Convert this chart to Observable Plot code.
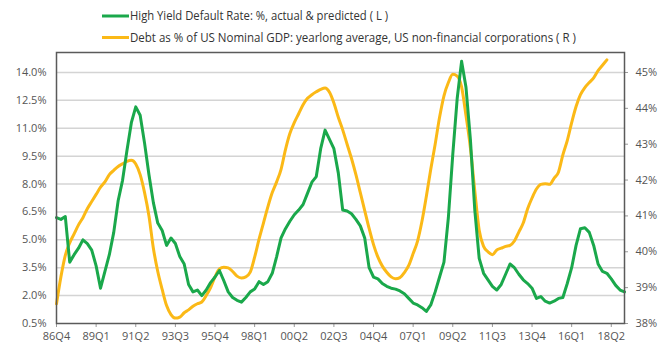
<!DOCTYPE html>
<html>
<head>
<meta charset="utf-8">
<script src="https://cdn.jsdelivr.net/npm/d3@7"></script>
<script src="https://cdn.jsdelivr.net/npm/@observablehq/plot@0.6"></script>
<style>
  html, body { margin: 0; padding: 0; background: #fff; }
  #legend { display: block; }
  #chart svg { display: block; }
</style>
</head>
<body>
<svg id="legend" width="661" height="48"></svg>
<div id="chart"></div>
<script>
// Quarterly series, both starting at 86Q4
const seriesStart = "86Q4";

// High Yield Default Rate, % (left axis), actual & predicted
const defaultRate = [
  6.2, 6.1, 6.25, 3.8, 4.2, 4.55, 5.0, 4.8, 4.45, 3.6,
  2.4, 3.3, 4.2, 5.4, 7.1, 8.2, 9.8, 11.3, 12.15, 11.7,
  10.2, 8.5, 7.0, 5.9, 5.5, 4.7, 5.1, 4.8, 4.1, 3.7,
  2.6, 2.2, 2.3, 2.0, 2.3, 2.7, 3.0, 3.35, 2.8, 2.2,
  1.9, 1.75, 1.65, 1.9, 2.2, 2.35, 2.75, 2.6, 2.75, 3.2,
  4.1, 5.1, 5.6, 6.0, 6.35, 6.6, 6.9, 7.5, 8.1, 8.4,
  9.9, 10.9, 10.4, 9.9, 8.6, 6.6, 6.55, 6.4, 6.1, 5.75,
  5.1, 3.5, 3.0, 2.9, 2.65, 2.5, 2.4, 2.35, 2.25, 2.1,
  1.85, 1.6, 1.5, 1.35, 1.15, 1.5, 2.2, 3.0, 3.8, 6.2,
  9.6, 12.6, 14.6, 13.2, 10.4, 6.6, 4.0, 3.2, 2.85, 2.5,
  2.3, 2.6, 3.15, 3.7, 3.5, 3.15, 2.85, 2.65, 2.4, 1.85,
  1.95, 1.7, 1.6, 1.7, 1.85, 1.9, 2.65, 3.5, 4.7, 5.6,
  5.65, 5.4, 4.7, 3.7, 3.3, 3.2, 2.9, 2.55, 2.3, 2.2
];

// Debt as % of US nominal GDP, yearlong average, US non-financial corporations (right axis)
const debtToGdp = [
  38.55, 39.3, 39.9, 40.25, 40.5, 40.75, 40.95, 41.2, 41.4, 41.6,
  41.8, 41.95, 42.15, 42.27, 42.38, 42.45, 42.52, 42.55, 42.45, 42.15,
  41.65, 41.0, 40.1, 39.45, 38.95, 38.5, 38.25, 38.15, 38.18, 38.3,
  38.38, 38.48, 38.55, 38.6, 38.78, 39.0, 39.3, 39.52, 39.57, 39.55,
  39.45, 39.32, 39.27, 39.3, 39.43, 39.85, 40.35, 40.8, 41.25, 41.65,
  41.95, 42.3, 42.85, 43.3, 43.6, 43.85, 44.1, 44.28, 44.38, 44.46,
  44.53, 44.57, 44.45, 44.15, 43.75, 43.4, 43.0, 42.6, 42.15, 41.65,
  41.15, 40.65, 40.2, 39.85, 39.6, 39.43, 39.3, 39.25, 39.28, 39.42,
  39.62, 39.95, 40.3, 40.85, 41.55, 42.3, 43.0, 43.75, 44.35, 44.72,
  44.95, 44.9, 44.6, 43.8, 42.9, 41.7, 40.6, 40.15, 40.0, 39.92,
  40.05, 40.1, 40.15, 40.18, 40.3, 40.55, 40.8, 41.2, 41.5, 41.75,
  41.88, 41.9, 41.88, 42.05, 42.22, 42.7, 43.1, 43.6, 44.05, 44.38,
  44.58, 44.72, 44.85, 45.05, 45.2, 45.35
];

const xTickLabels = ["86Q4", "89Q1", "91Q2", "93Q3", "95Q4", "98Q1", "00Q2", "02Q3",
  "04Q4", "07Q1", "09Q2", "11Q3", "13Q4", "16Q1", "18Q2"];
const leftTicks = [0.5, 2.0, 3.5, 5.0, 6.5, 8.0, 9.5, 11.0, 12.5, 14.0];
const rightTicks = [38, 39, 40, 41, 42, 43, 44, 45];
const lastQuarter = "19Q1";

const legendItems = [
  {label: "High Yield Default Rate: %, actual & predicted ( L )", color: "#1aa84b", width: 258},
  {label: "Debt as % of US Nominal GDP: yearlong average, US non-financial corporations ( R )", color: "#fbb917", width: 446}
];

// "86Q4" -> number of quarters since 1986 Q4
function quarterIndex(label) {
  const yy = +label.slice(0, 2);
  const year = yy < 50 ? 2000 + yy : 1900 + yy;
  const q = +label.slice(3);
  return (year - 1986) * 4 + (q - 4);
}

const q0 = quarterIndex(seriesStart);
const hy = defaultRate.map((v, i) => ({q: q0 + i, v}));
const debt = debtToGdp.map((v, i) => ({q: q0 + i, v}));

// right axis (38%..45%) shares the left scale (0.5%..14.0%)
const toLeft = r => 0.5 + (r - 38) * (13.5 / 7);
const fromLeft = l => 38 + (l - 0.5) * (7 / 13.5);

const xTicks = xTickLabels.map(quarterIndex);
const labelAt = new Map(xTickLabels.map(l => [quarterIndex(l), l]));

const chart = Plot.plot({
  width: 661,
  height: 299,
  marginLeft: 56,
  marginRight: 37,
  marginTop: 4,
  marginBottom: 24,
  style: {fontFamily: "'Open Sans', sans-serif", fontSize: "11px", color: "#555", background: "#fff"},
  x: {domain: [0, quarterIndex(lastQuarter)], label: null},
  y: {domain: [0.5, toLeft(45.557)], label: null},
  marks: [
    Plot.gridY(leftTicks.slice(1), {stroke: "#d4d4d4", strokeOpacity: 1, strokeWidth: 1.5}),
    Plot.lineY(debt, {x: "q", y: d => toLeft(d.v), stroke: "#fbb917", strokeWidth: 3, curve: "monotone-x"}),
    Plot.lineY(hy, {x: "q", y: "v", stroke: "#1aa84b", strokeWidth: 3}),
    Plot.axisY(leftTicks, {anchor: "left", label: null, tickSize: 0, tickPadding: 10,
      tickFormat: d => d.toFixed(1) + "%"}),
    Plot.axisY(rightTicks.map(toLeft), {anchor: "right", label: null, tickSize: 3, tickPadding: 8, stroke: "#999",
      tickFormat: d => Math.round(fromLeft(d)) + "%"}),
    Plot.axisX(xTicks, {label: null, tickSize: 4, tickPadding: 5, stroke: "#999", tickFormat: d => labelAt.get(d)}),
    Plot.frame({stroke: "#5a5a5a", strokeWidth: 1.5})
  ]
});
document.getElementById("chart").appendChild(chart);

// legend above the chart
const legend = d3.select("#legend");
legendItems.forEach((item, i) => {
  const y = 16 + i * 21.5;
  legend.append("line")
    .attr("x1", 102).attr("x2", 129).attr("y1", y).attr("y2", y)
    .attr("stroke", item.color).attr("stroke-width", 3);
  legend.append("text")
    .attr("x", 130).attr("y", y + 4)
    .attr("font-family", "'Open Sans', sans-serif")
    .attr("font-size", 12)
    .attr("fill", "#333")
    .attr("textLength", item.width)
    .attr("lengthAdjust", "spacingAndGlyphs")
    .text(item.label);
});
</script>
</body>
</html>
